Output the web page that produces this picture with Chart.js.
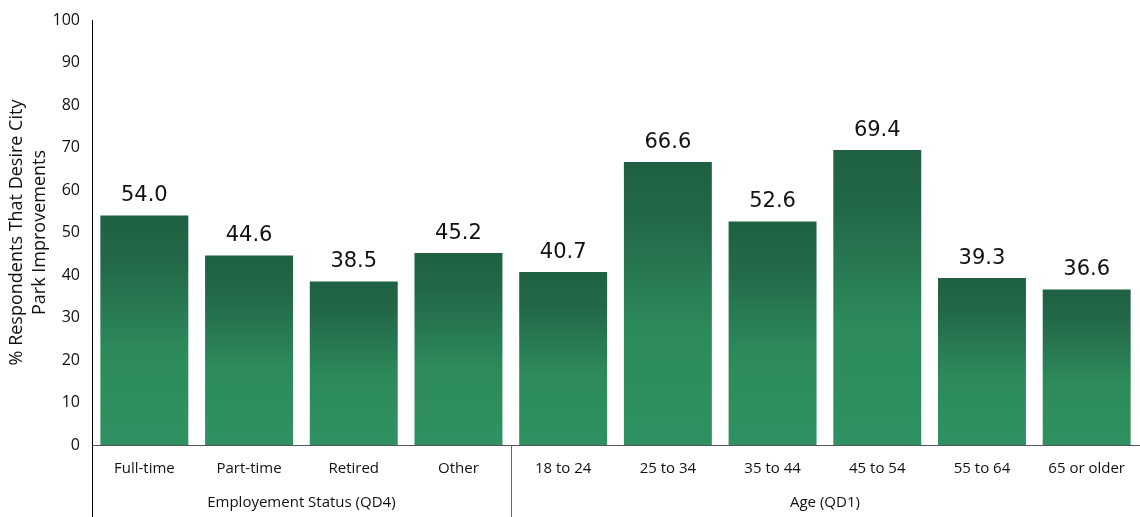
<!DOCTYPE html>
<html lang="en">
<head>
<meta charset="UTF-8">
<title>Park Improvements</title>
<style>
  html, body { margin: 0; padding: 0; background: #fff; }
  #wrap { width: 1140px; height: 517px; }
</style>
</head>
<body>
<div id="wrap"><canvas id="parkChart" width="1140" height="517"></canvas></div>
<script src="https://cdn.jsdelivr.net/npm/chart.js"></script>
<script>
const categories = ['Full-time', 'Part-time', 'Retired', 'Other', '18 to 24', '25 to 34', '35 to 44', '45 to 54', '55 to 64', '65 or older'];
const values = [54.0, 44.6, 38.5, 45.2, 40.7, 66.6, 52.6, 69.4, 39.3, 36.6];
const groupNames = ['Employement Status (QD4)', 'Age (QD1)'];
const groupSizes = [4, 6];
const yTicks = [0, 10, 20, 30, 40, 50, 60, 70, 80, 90, 100];

const FONT = '"Open Sans", "DejaVu Sans", sans-serif';

function barGradient(context) {
    const chart = context.chart;
    const y = chart.scales.y;
    if (!chart.chartArea || !y || !context.parsed) return '#2b855a';
    const top = y.getPixelForValue(context.parsed.y);
    const base = y.getPixelForValue(0);
    if (!isFinite(top) || !isFinite(base) || top === base) return '#2b855a';
    const g = chart.ctx.createLinearGradient(0, top, 0, base);
    g.addColorStop(0, '#1f6142');
    g.addColorStop(0.2, '#226848');
    g.addColorStop(0.6, '#2d8b5b');
    g.addColorStop(1, '#2f9161');
    return g;
}

// value labels above bars
const valueLabels = {
    id: 'valueLabels',
    afterDatasetsDraw(chart) {
        const ctx = chart.ctx;
        const meta = chart.getDatasetMeta(0);
        ctx.save();
        ctx.font = '21px "DejaVu Sans"';
        ctx.fillStyle = '#111';
        ctx.textAlign = 'center';
        ctx.textBaseline = 'bottom';
        meta.data.forEach((bar, i) => {
            ctx.fillText(values[i].toFixed(1), bar.x, bar.y - 9);
        });
        ctx.restore();
    }
};

// group labels and separators under the x axis
const groupAxis = {
    id: 'groupAxis',
    afterDraw(chart) {
        const ctx = chart.ctx;
        const x = chart.scales.x;
        const area = chart.chartArea;
        const bottom = chart.height;
        ctx.save();
        ctx.strokeStyle = '#000';
        ctx.lineWidth = 1;
        ctx.beginPath();
        ctx.moveTo(area.left + 0.5, area.top);
        ctx.lineTo(area.left + 0.5, bottom);
        ctx.stroke();
        ctx.font = '15px ' + FONT;
        ctx.fillStyle = '#111';
        ctx.textAlign = 'center';
        ctx.textBaseline = 'middle';
        let start = 0;
        groupSizes.forEach((n, gi) => {
            const left = start === 0 ? area.left : (x.getPixelForValue(start - 1) + x.getPixelForValue(start)) / 2;
            const end = start + n;
            const right = end >= categories.length ? area.right : (x.getPixelForValue(end - 1) + x.getPixelForValue(end)) / 2;
            ctx.fillText(groupNames[gi], (left + right) / 2, 503);
            if (end < categories.length) {
                ctx.strokeStyle = '#666';
                ctx.beginPath();
                ctx.moveTo(Math.round(right) + 0.5, area.bottom);
                ctx.lineTo(Math.round(right) + 0.5, bottom);
                ctx.stroke();
            }
            start = end;
        });
        ctx.restore();
    }
};

new Chart(document.getElementById('parkChart'), {
    type: 'bar',
    data: {
        labels: categories,
        datasets: [{
            data: values,
            backgroundColor: barGradient,
            borderWidth: 0,
            categoryPercentage: 1,
            barPercentage: 0.84
        }]
    },
    options: {
        responsive: false,
        animation: false,
        layout: { padding: { top: 7, right: 0, left: 0, bottom: 0 } },
        plugins: { legend: { display: false }, tooltip: { enabled: false } },
        scales: {
            x: {
                grid: { display: false, drawTicks: false },
                border: { display: true, color: '#555', width: 1 },
                ticks: {
                    color: '#111',
                    padding: 15,
                    maxRotation: 0,
                    font: { family: FONT, size: 15 }
                },
                afterFit(scale) { scale.height = 72; }
            },
            y: {
                min: 0,
                max: 100,
                afterBuildTicks(scale) { scale.ticks = yTicks.map(v => ({ value: v })); },
                grid: { display: false, drawTicks: false },
                border: { display: true, color: '#000', width: 1 },
                ticks: {
                    color: '#111',
                    padding: 12,
                    font: { family: FONT, size: 16, lineHeight: 1 }
                },
                title: {
                    display: true,
                    text: ['% Respondents That Desire City', 'Park Improvements'],
                    color: '#111',
                    padding: { top: 5, bottom: 0 },
                    font: { family: FONT, size: 18, lineHeight: 1.3 }
                },
                afterFit(scale) { scale.width = 92; }
            }
        }
    },
    plugins: [valueLabels, groupAxis]
});
</script>
</body>
</html>
